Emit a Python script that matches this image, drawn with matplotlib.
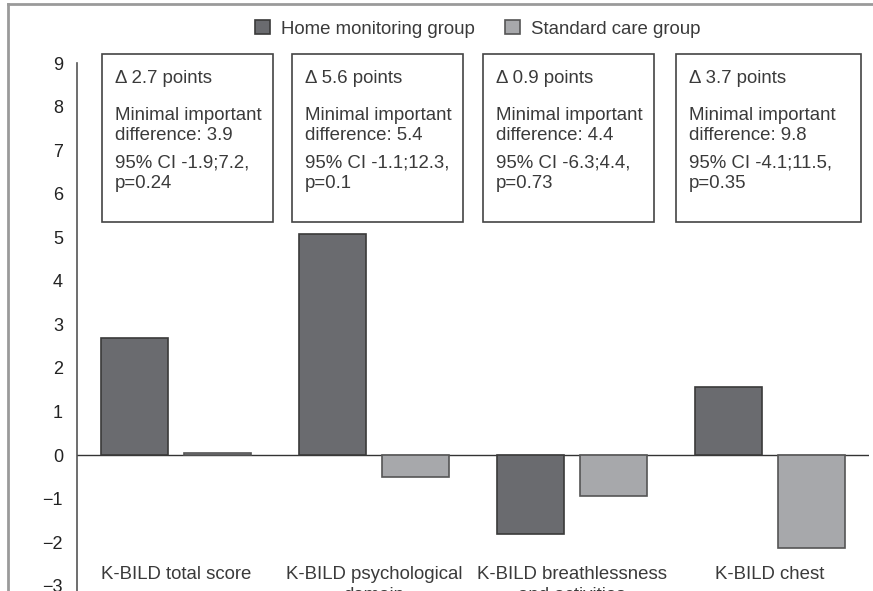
import matplotlib.pyplot as plt
from matplotlib.patches import Rectangle
from matplotlib.lines import Line2D
import numpy as np

plt.rcParams['font.family'] = ['Liberation Sans', 'DejaVu Sans']

# data
categories = ['K-BILD total score', 'K-BILD psychological\ndomain',
              'K-BILD breathlessness\nand activities', 'K-BILD chest']
home = [2.68, 5.08, -1.82, 1.57]
standard = [0.04, -0.50, -0.94, -2.14]
deltas = ['2.7', '5.6', '0.9', '3.7']
mids = ['3.9', '5.4', '4.4', '9.8']
cis = ['-1.9;7.2', '-1.1;12.3', '-6.3;4.4', '-4.1;11.5']
pvals = ['0.24', '0.1', '0.73', '0.35']
yticks = list(range(-3, 10))

# layout
box_x = [(-0.374, 0.49), (0.586, 1.449), (1.55, 2.414), (2.525, 3.46)]
dark = '#6a6b6f'
light = '#a7a8ab'
txt = '#3a3a3a'
fs = 13.4

fig = plt.figure(figsize=(8.73, 5.91), dpi=100)
ax = fig.add_axes([77 / 873, -0.0134, 792 / 873, 0.9068])

x = np.arange(len(categories))
w = 0.338
ax.bar(x - 0.21, home, w, color=dark, edgecolor='#3a3a3a', linewidth=1.2,
       label='Home monitoring group', zorder=3)
ax.bar(x + 0.21, standard, w, color=light, edgecolor='#555555', linewidth=1.2,
       label='Standard care group', zorder=3)
ax.axhline(0, color='#333333', lw=1, zorder=2)

ax.set_xlim(-0.5, 3.5)
ax.set_ylim(-3.3, 9)
ax.set_yticks(yticks)
ax.set_yticklabels([str(t).replace('-', '\u2212') for t in yticks])
ax.tick_params(axis='y', length=0, pad=10, labelsize=13, colors='#222222')
ax.set_xticks([])
for s in ['top', 'right', 'bottom']:
    ax.spines[s].set_visible(False)
ax.spines['left'].set_color('#555555')
ax.spines['left'].set_linewidth(1.2)

for i, cat in enumerate(categories):
    ax.text(i, -2.55, cat, ha='center', va='top', fontsize=fs, color=txt,
            linespacing=1.3, clip_on=False)

for i in range(len(categories)):
    x0, x1 = box_x[i]
    ax.add_patch(Rectangle((x0, 5.34), x1 - x0, 9.2 - 5.34, fill=False,
                           edgecolor='#444444', lw=1.2, clip_on=False))
    tx = x0 + 0.067
    ax.text(tx, 8.65, '\u0394 ' + deltas[i] + ' points', fontsize=fs, color=txt,
            va='center', clip_on=False)
    ax.text(tx, 7.57, 'Minimal important\ndifference: ' + mids[i], fontsize=fs,
            color=txt, va='center', linespacing=1.2, clip_on=False)
    ax.text(tx, 6.47, '95% CI ' + cis[i] + ',\np=' + pvals[i], fontsize=fs,
            color=txt, va='center', linespacing=1.2, clip_on=False)

leg = fig.legend(loc='center', bbox_to_anchor=(478 / 873, 1 - 29 / 591), ncol=2,
                 frameon=False, fontsize=fs, handlelength=0.8, handleheight=0.8,
                 columnspacing=1.6, handletextpad=0.6)
for t in leg.get_texts():
    t.set_color(txt)

# outer frame
fig.add_artist(Line2D([8 / 873, 8 / 873], [0, 1 - 4 / 591], color='#9a9a9a', lw=2))
fig.add_artist(Line2D([8 / 873, 1], [1 - 4 / 591, 1 - 4 / 591], color='#9a9a9a', lw=2))

fig.savefig('out.png', dpi=100)
